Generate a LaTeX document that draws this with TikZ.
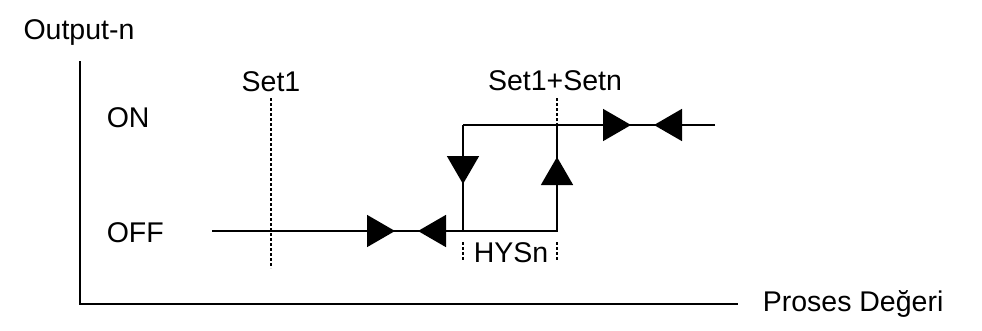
\documentclass[tikz,border=0pt]{standalone}
\usepackage{fontspec}
\setmainfont{Liberation Sans}
\usetikzlibrary{arrows.meta, positioning}

\begin{document}
\begin{tikzpicture}[x=1pt, y=-1pt, line width=1.6pt,
    lbl/.style={font=\fontsize{28.5}{32}\selectfont, inner sep=0pt},
    tri/.style={-{Triangle[length=28pt, width=32pt]}},
    tick/.style={line width=1.1pt, dash pattern=on 3pt off 2pt}]
    \useasboundingbox (0,0) rectangle (982,330);
    % axes
    \coordinate (ytop) at (80,61);
    \coordinate (xend) at (738,304);
    \draw (ytop) |- (xend);
    \node[lbl] (out) at (79,33) {Output-n};
    \node[lbl, anchor=west] (pv) at (762,304) {Proses Değeri};
    \node[lbl, anchor=west] (on) at (106,118) {ON};
    \node[lbl, anchor=west] (off) at (106,233) {OFF};
    % set points
    \coordinate (s1top) at (271,98);
    \coordinate (s1bot) at (271,268);
    \draw[tick] (s1top) -- (s1bot);
    \node[lbl] (set1) at (271,82) {Set1};
    \coordinate (s2top) at (557,98);
    \draw[tick] (s2top) -- (557,125);
    \node[lbl] (setn) at (555,81) {Set1+Setn};
    % hysteresis loop
    \coordinate (offstart) at (212,231);
    \coordinate (hl) at (463,231);
    \coordinate (hr) at (557,231);
    \coordinate (tl) at (463,125);
    \coordinate (tr) at (557,125);
    \coordinate (onend) at (715,125);
    \draw (offstart) -- (hl) -- (hr) -- (tr);
    \draw (tl) -- (hl);
    \draw (tl) -- (onend);
    \draw[tri] (offstart) -- (395,231);
    \draw[tri] (hl) -- (418,231);
    \draw[tri] (tl) -- (463,184);
    \draw[tri] (hr) -- (557,157);
    \draw[tri] (tr) -- (631,125);
    \draw[tri] (onend) -- (654,125);
    % hysteresis width
    \draw[tick] (463,242) -- (463,260);
    \draw[tick] (557,242) -- (557,260);
    \node[lbl] (hys) at (511,253) {HYSn};
\end{tikzpicture}
\end{document}
